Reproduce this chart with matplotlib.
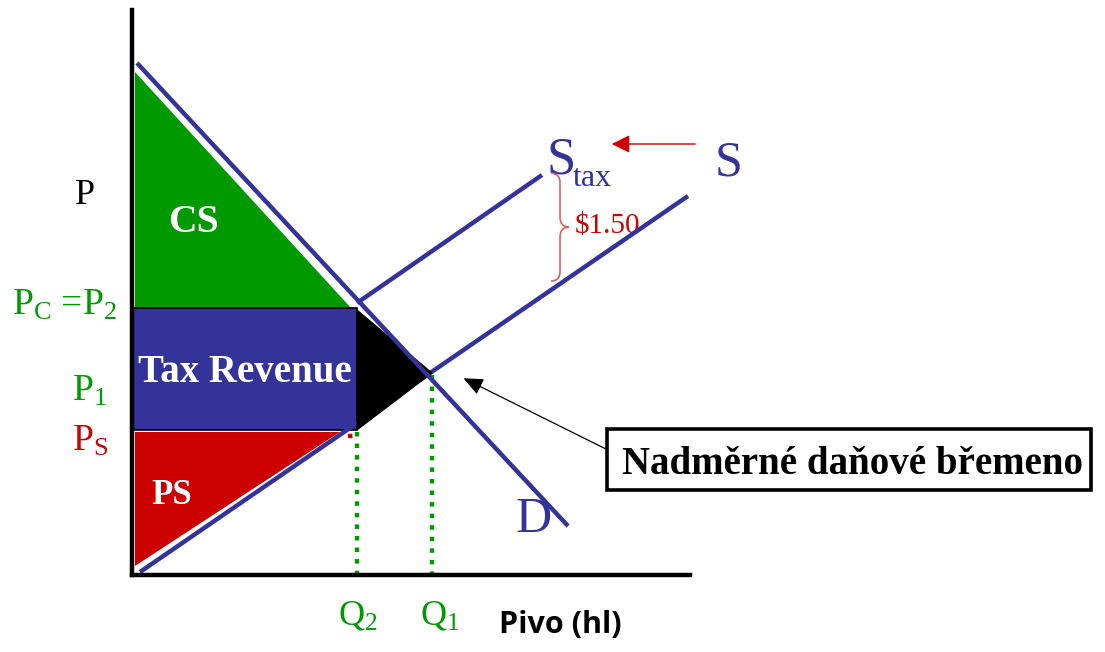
import matplotlib
matplotlib.use("Agg")
import matplotlib.pyplot as plt
from matplotlib.patches import Polygon, Rectangle, FancyArrowPatch, PathPatch
from matplotlib.path import Path

# ---------------- data (economic units, 1 unit = 100 px) ----------------
demand_q = [0.05, 4.36]
demand_p = [5.12, 0.49]
supply_q = [0.08, 5.56]
supply_p = [0.03, 3.79]
stax_q = [2.25, 4.10]
stax_p = [2.72, 4.00]
Q2, Q1 = 2.25, 3.00
P_C, P1, P_S = 2.67, 2.02, 1.45
axis_max_q, axis_max_p = 5.58, 5.65
cs_top_p = 5.03
ps_right_q = 2.08
ps_bottom_p = 0.09
tax_label = "$1.50"
box_label = "Nadměrné daňové břemeno"
x_label = "Pivo (hl)"

# ---------------- style ----------------
BLUE = "#333399"
GREEN = "#009900"
RED = "#CC0000"
SERIF = "Liberation Serif"
plt.rcParams["mathtext.fontset"] = "custom"
plt.rcParams["mathtext.rm"] = SERIF
plt.rcParams["mathtext.it"] = SERIF + ":italic"
plt.rcParams["mathtext.bf"] = SERIF + ":bold"

W, H = 1105, 652
fig = plt.figure(figsize=(W / 100, H / 100), dpi=100)
ax = fig.add_axes([0, 0, 1, 1])
X0, Y0 = 132, 575  # pixel location of origin
ax.set_xlim(-X0 / 100, (W - X0) / 100)
ax.set_ylim(-(H - Y0) / 100, Y0 / 100)
ax.axis("off")


def px(x, y):
    return ((x - X0) / 100, (Y0 - y) / 100)


# areas
ax.add_patch(Polygon([(0.03, cs_top_p), (0.03, P_C), (Q2 - 0.06, P_C)],
                     closed=True, facecolor=GREEN, edgecolor="none", zorder=1))
ax.add_patch(Polygon([(0.03, P_S - 0.02), (ps_right_q, P_S - 0.02), (0.03, ps_bottom_p)],
                     closed=True, facecolor=RED, edgecolor="none", zorder=1))
ax.add_patch(Rectangle((0, P_S), Q2, P_C - P_S, facecolor=BLUE,
                       edgecolor="black", lw=1.2, zorder=2))
ax.add_patch(Polygon([(Q2, P_C - 0.02), (Q2, P_S), (Q1, P1)], closed=True,
                     facecolor="black", edgecolor="black", lw=0.8, zorder=5))

# dotted guides
ax.plot([Q2, Q2], [P_S - 0.02, 0], color=GREEN, lw=3.2, ls=(0, (1, 1.6)), zorder=3)
ax.plot([Q1, Q1], [P1 - 0.02, 0], color=GREEN, lw=3.2, ls=(0, (1, 1.6)), zorder=3)
ax.plot([ps_right_q + 0.08, Q2 - 0.02], [P_S - 0.06, P_S - 0.06], color=RED, lw=3.2,
        ls=(0, (1, 1.6)), zorder=3)

# curves
ax.plot(demand_q, demand_p, color=BLUE, lw=3.2, solid_capstyle="butt", zorder=6)
ax.plot(supply_q, supply_p, color=BLUE, lw=3.2, solid_capstyle="butt", zorder=4)
ax.plot(stax_q, stax_p, color=BLUE, lw=3.2, solid_capstyle="butt", zorder=4)

# axes
ax.plot([0, 0], [0, axis_max_p], color="black", lw=3.2, solid_capstyle="projecting", zorder=6)
ax.plot([0, axis_max_q], [0, 0], color="black", lw=3.2, solid_capstyle="projecting", zorder=6)

# labels in areas
ax.text(*px(193, 222), "CS", color="white", fontsize=28.5, fontweight="bold",
        family=SERIF, ha="center", va="center", zorder=7)
ax.text(*px(245, 373), "Tax Revenue", color="white", fontsize=28, fontweight="bold",
        family=SERIF, ha="center", va="center", zorder=7)
ax.text(*px(172, 495), "PS", color="white", fontsize=25, fontweight="bold",
        family=SERIF, ha="center", va="center", zorder=7)

# axis labels
ax.text(*px(85, 195), "P", color="black", fontsize=26, family=SERIF, ha="center", va="center")
ax.text(*px(12, 315), r"P$_{\mathrm{C}}$ =P$_{\mathrm{2}}$", color=GREEN, fontsize=27,
        family=SERIF, ha="left", va="baseline")
ax.text(*px(72, 401), r"P$_{\mathrm{1}}$", color=GREEN, fontsize=27, family=SERIF,
        ha="left", va="baseline")
ax.text(*px(72, 451), r"P$_{\mathrm{S}}$", color=RED, fontsize=27, family=SERIF,
        ha="left", va="baseline")
ax.text(*px(338, 625), r"Q$_{\mathrm{2}}$", color=GREEN, fontsize=26, family=SERIF,
        ha="left", va="baseline")
ax.text(*px(420, 625), r"Q$_{\mathrm{1}}$", color=GREEN, fontsize=26, family=SERIF,
        ha="left", va="baseline")
ax.text(*px(560, 633), x_label, color="black", fontsize=22, fontweight="bold",
        family="Open Sans", ha="center", va="baseline")

# curve labels
ax.text(*px(546, 174), "S", color=BLUE, fontsize=38, family=SERIF, ha="left", va="baseline")
ax.text(*px(573, 186), "tax", color=BLUE, fontsize=23, family=SERIF, ha="left", va="baseline")
ax.text(*px(715, 176), "S", color=BLUE, fontsize=36, family=SERIF, ha="left", va="baseline")
ax.text(*px(516, 532), "D", color=BLUE, fontsize=36, family=SERIF, ha="left", va="baseline")

# red arrow
ax.add_patch(FancyArrowPatch(px(698, 144), px(609, 144), arrowstyle="-|>,head_length=5,head_width=2.5",
                             color=RED, lw=1.0, mutation_scale=2.2, zorder=6))
ax.text(*px(575, 233), tax_label, color=RED, fontsize=21, family=SERIF, ha="left", va="baseline")

# brace
verts = [px(551, 173), px(560, 174), px(560, 182), px(560, 217), px(560, 227), px(569, 227),
         px(560, 227), px(560, 237), px(560, 272), px(560, 281), px(551, 281)]
codes = [Path.MOVETO, Path.CURVE3, Path.CURVE3, Path.LINETO, Path.CURVE3, Path.CURVE3,
         Path.CURVE3, Path.CURVE3, Path.LINETO, Path.CURVE3, Path.CURVE3]
ax.add_patch(PathPatch(Path(verts, codes), facecolor="none", edgecolor="#E06060", lw=1.2, zorder=6))

# annotation box + arrow
ax.add_patch(FancyArrowPatch(px(612, 452), px(461, 377), arrowstyle="-|>,head_length=8,head_width=3.5",
                             color="black", lw=0.9, mutation_scale=1.5, zorder=6))
ax.add_patch(Rectangle(px(607, 490), 4.84, 0.61, facecolor="white", edgecolor="black",
                       lw=2.6, zorder=7))
ax.text(*px(853, 474), box_label, color="black", fontsize=28, fontweight="bold",
        family=SERIF, ha="center", va="baseline", zorder=8)

fig.savefig("out.png", dpi=100)
